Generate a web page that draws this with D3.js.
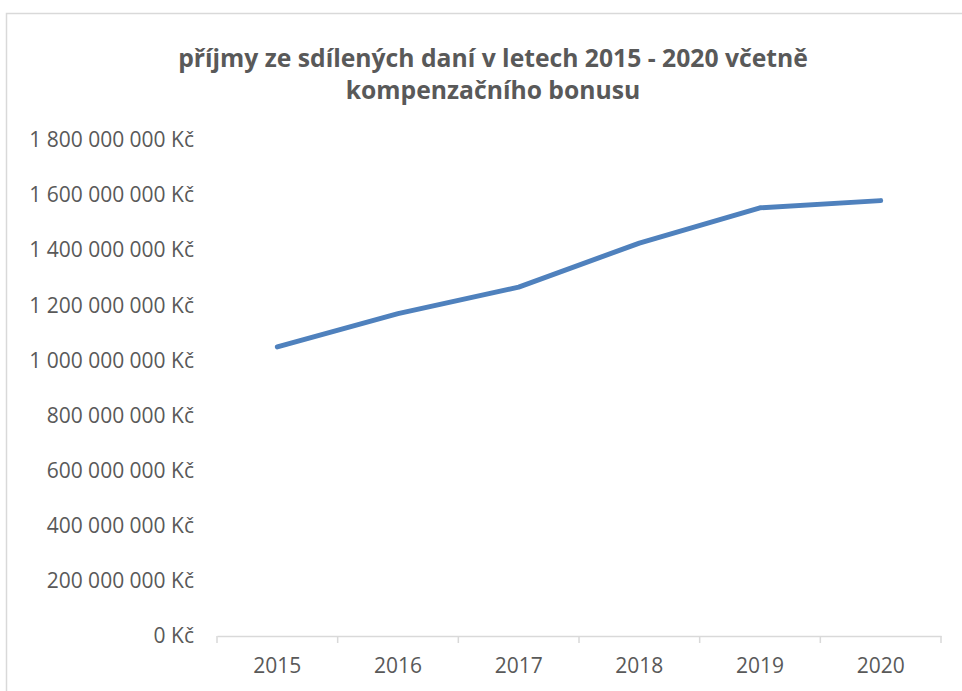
<!DOCTYPE html>
<html>
<head>
<meta charset="utf-8">
<script src="https://cdn.jsdelivr.net/npm/d3@7"></script>
<style>
  html, body { margin: 0; padding: 0; background: #fff; }
  svg { display: block; }
</style>
</head>
<body>
<div id="chart"></div>
<script>
const years = ['2015', '2016', '2017', '2018', '2019', '2020'];
const income = [1049000000, 1170000000, 1266000000, 1426000000, 1554000000, 1580000000];
const yTicks = [0, 200000000, 400000000, 600000000, 800000000, 1000000000,
  1200000000, 1400000000, 1600000000, 1800000000];
const titleLines = ['příjmy ze sdílených daní v letech 2015 - 2020 včetně', 'kompenzačního bonusu'];

const width = 962;
const height = 691;
const margin = { top: 140, right: 21, bottom: 55, left: 217 };
const textColor = '#595959';
const axisColor = '#d9d9d9';
const font = '"Open Sans", sans-serif';

const svg = d3.select('#chart').append('svg')
  .attr('width', width)
  .attr('height', height);

// chart frame (runs off the right and bottom edge)
svg.append('rect')
  .attr('x', 6.5)
  .attr('y', 13.5)
  .attr('width', width + 20)
  .attr('height', height + 20)
  .attr('fill', '#fff')
  .attr('stroke', axisColor)
  .attr('stroke-width', 1.5);

svg.selectAll('text.title')
  .data(titleLines)
  .join('text')
    .attr('class', 'title')
    .attr('x', 493)
    .attr('y', (d, i) => 67 + i * 32)
    .attr('text-anchor', 'middle')
    .attr('font-family', font)
    .attr('font-weight', 700)
    .attr('font-size', '24.7px')
    .attr('fill', textColor)
    .text(d => d);

const x = d3.scaleBand()
  .domain(years)
  .range([margin.left, width - margin.right]);

const y = d3.scaleLinear()
  .domain([0, 1800000000])
  .range([height - margin.bottom, margin.top]);

const fmt = v => `${d3.format(',')(v).replace(/,/g, ' ')} Kč`;

// y axis: labels only
const yAxis = svg.append('g')
  .attr('transform', `translate(${margin.left},0)`)
  .call(d3.axisLeft(y).tickValues(yTicks).tickFormat(fmt).tickSize(0).tickPadding(23));
yAxis.select('.domain').remove();
yAxis.selectAll('text')
  .attr('font-family', font)
  .attr('font-size', '21px')
  .attr('fill', textColor);

// x axis with ticks between categories
const xAxis = svg.append('g')
  .attr('transform', `translate(0,${y(0)})`)
  .call(d3.axisBottom(x).tickSize(0).tickPadding(22));
xAxis.select('.domain')
  .attr('stroke', axisColor)
  .attr('stroke-width', 1.5);
xAxis.selectAll('text')
  .attr('font-family', font)
  .attr('font-size', '21px')
  .attr('fill', textColor);
xAxis.selectAll('line.sep')
  .data(years.concat(['end']))
  .join('line')
    .attr('class', 'sep')
    .attr('x1', (d, i) => (i < years.length ? x(d) : x(years[years.length - 1]) + x.bandwidth()))
    .attr('x2', (d, i) => (i < years.length ? x(d) : x(years[years.length - 1]) + x.bandwidth()))
    .attr('y1', 0)
    .attr('y2', 7)
    .attr('stroke', axisColor)
    .attr('stroke-width', 1.5);

const line = d3.line()
  .x((d, i) => x(years[i]) + x.bandwidth() / 2)
  .y(d => y(d));

svg.append('path')
  .datum(income)
  .attr('d', line)
  .attr('fill', 'none')
  .attr('stroke', '#4f81bd')
  .attr('stroke-width', 5)
  .attr('stroke-linecap', 'round')
  .attr('stroke-linejoin', 'round');
</script>
</body>
</html>
